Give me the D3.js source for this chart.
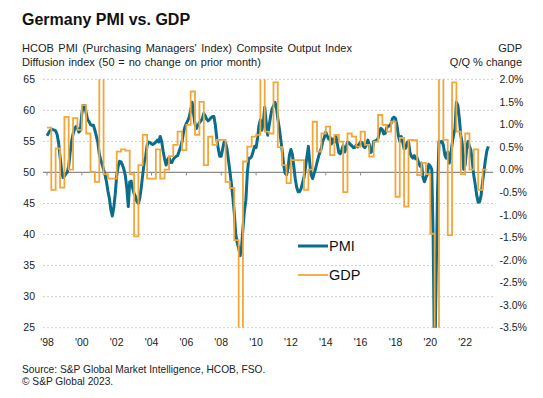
<!DOCTYPE html>
<html>
<head>
<meta charset="utf-8">
<script src="https://cdn.jsdelivr.net/npm/d3@7"></script>
<style>
  body { margin: 0; background: #fff; }
  text { font-family: "Liberation Sans", Arial, sans-serif; }
</style>
</head>
<body>
<div id="chart"></div>
<script>
'use strict';

// Monthly PMI values, Jan 1998 onwards
var pmiValues = [
    55.9, 56.3, 56.7, 56.9, 56.9, 56.8, 56.7, 56.1, 54.8, 52.6, 50.5, 49.2,
    49.4, 49.8, 50.0, 51.0, 53.2, 55.0, 56.2, 57.0, 57.4, 57.1, 56.5, 56.8,
    59.5, 60.8, 60.8, 59.6, 58.5, 58.2, 57.7, 57.6, 57.6, 56.8, 55.8, 54.9,
    53.0, 52.0, 51.3, 50.5, 49.6, 48.5, 47.0, 45.8, 44.0, 43.0, 44.3, 46.5,
    49.5, 51.0, 51.8, 51.7, 51.2, 50.5, 49.5, 47.5, 44.5, 48.5, 48.6, 47.5,
    46.6, 46.1, 45.3, 45.0, 45.9, 47.6, 49.7, 51.6, 52.6, 54.4, 54.9, 54.8,
    54.6, 54.5, 54.7, 54.9, 55.2, 54.9, 55.8, 55.0, 53.4, 52.2, 51.2, 52.0,
    52.4, 51.6, 51.6, 52.1, 52.4, 52.6, 52.7, 53.4, 54.1, 54.9, 56.4, 57.3,
    57.9, 58.4, 58.9, 60.0, 61.3, 59.4, 57.8, 57.1, 57.6, 58.0, 58.3, 58.7,
    59.5, 59.1, 58.6, 58.3, 58.5, 58.8, 59.0, 59.0, 57.6, 55.4, 53.8, 52.6,
    52.6, 53.8, 54.9, 54.8, 53.8, 52.0, 50.2, 48.2, 46.0, 43.5, 40.0, 38.7,
    37.8, 36.6, 37.8, 41.0, 43.8, 45.5, 49.8, 52.3, 52.3, 52.6, 53.4, 54.2,
    54.0, 55.5, 57.5, 58.5, 56.8, 58.0, 60.5, 58.0, 56.0, 57.5, 59.0, 60.2,
    60.7, 61.3, 60.6, 58.7, 57.2, 55.4, 53.6, 51.3, 49.9, 49.6, 50.6, 52.8,
    53.7, 52.9, 51.0, 49.0, 47.6, 46.9, 46.9, 47.4, 48.3, 49.2, 50.8, 52.5,
    54.2, 51.4, 49.6, 49.0, 49.8, 50.6, 51.6, 52.5, 53.3, 53.9, 55.1, 55.6,
    56.5, 55.9, 55.4, 55.7, 54.6, 55.4, 54.9, 55.8, 54.6, 53.2, 53.0, 53.6,
    54.3, 53.3, 53.9, 54.9, 54.8, 54.5, 54.3, 54.0, 54.0, 54.4, 54.1, 54.6,
    54.9, 54.8, 54.2, 54.0, 54.4, 55.2, 54.5, 53.2, 53.5, 55.0, 55.1, 55.1,
    55.5, 56.6, 57.1, 56.9, 56.2, 56.3, 57.2, 57.5, 57.5, 57.9, 58.7, 58.9,
    58.7, 57.6, 56.0, 55.0, 55.8, 54.9, 53.8, 53.9, 54.8, 55.0, 53.2, 52.6,
    52.3, 52.7, 52.2, 52.3, 51.6, 51.0, 51.5, 49.2, 48.5, 49.2, 49.7, 51.3,
    51.0, 50.5, 39.5, 17.4, 32.3, 47.0, 55.0, 54.9, 55.0, 54.4, 52.8, 52.3,
    53.3, 51.5, 52.6, 54.5, 56.0, 57.0, 61.3, 60.8, 58.7, 56.0, 54.6, 50.5,
    51.2, 53.8, 55.0, 54.2, 53.6, 51.7, 49.5, 48.0, 46.3, 45.2, 45.3, 46.3,
    48.5, 50.3, 52.0, 53.5, 54.2
];

// Quarterly GDP % change, 1998 Q1 onwards
var gdpValues = [
    0.93, -0.45, 0.47, -0.40,
    1.17, 0.00, 1.14, 0.88,
    1.43, 0.80, -0.05, -0.27,
    2.30, -0.10, -0.20, -0.20,
    0.40, 0.45, 0.42, -0.10,
    -1.48, 0.10, 0.77, -0.20,
    -0.20, 0.45, -0.20, 0.00,
    0.30, 0.55, 0.84, 0.43,
    0.99, 1.73, 0.77, 1.50,
    0.10, 0.73, 0.55, 0.66,
    0.66, -0.27, -0.41, -1.56,
    -4.50, 0.18, 0.51, 0.73,
    0.77, 2.10, 0.84, 0.80,
    1.93, 0.50, 0.10, -0.30,
    0.21, 0.21, 0.21, -0.45,
    0.00, 1.06, 0.40, 0.80,
    0.95, 0.32, 0.77, 0.62,
    -0.50, 0.80, 0.73, 0.51,
    0.84, 0.55, 0.29, 0.62,
    1.21, 0.99, 0.84, 1.06,
    -0.60, 0.70, -0.82, 0.66,
    0.65, -0.12, 0.15, -0.10,
    -1.42, -10.0, 9.0, 0.66,
    -1.45, 1.93, 0.84, -0.10,
    0.80, 0.00, 0.45, -0.45,
    0.00
];

var tickYears = [1998, 2000, 2002, 2004, 2006, 2008, 2010, 2012, 2014, 2016, 2018, 2020, 2022];
var leftTicks = [25, 30, 35, 40, 45, 50, 55, 60, 65];
var rightTicks = [-3.5, -3.0, -2.5, -2.0, -1.5, -1.0, -0.5, 0.0, 0.5, 1.0, 1.5, 2.0];

var pmiColor = "#0b6d8b";
var gdpColor = "#f3a63a";

(function() {
    var width = 543, height = 398;
    var plot = { left: 43, right: 493, top: 79.3, bottom: 327.7 };

    var svg = d3.select("#chart")
        .append("svg")
            .attr("width", width)
            .attr("height", height);

    // Scales
    var x = d3.scaleTime()
        .domain([new Date(1998, 0, 1), new Date(2023, 6, 1)])
        .range([47, 47 + 25.5 * 17.42]);

    var yLeft = d3.scaleLinear()
        .domain([25, 65])
        .range([plot.bottom, plot.top]);

    var yRight = d3.scaleLinear()
        .domain([-3.5, 2.0])
        .range([plot.bottom, plot.top]);

    // Title and subtitles
    svg.append("text")
        .attr("x", 22)
        .attr("y", 25)
        .attr("font-size", "16px")
        .attr("font-weight", "bold")
        .attr("fill", "#111")
        .text("Germany PMI vs. GDP");

    var sub = svg.append("g")
        .attr("font-size", "11px")
        .attr("fill", "#222");
    sub.append("text").attr("x", 22).attr("y", 52)
        .attr("word-spacing", "1.5px")
        .text("HCOB PMI (Purchasing Managers' Index) Compsite Output Index");
    sub.append("text").attr("x", 22).attr("y", 65.5)
        .attr("word-spacing", "0.8px")
        .text("Diffusion index (50 = no change on prior month)");
    sub.append("text").attr("x", 522).attr("y", 52)
        .attr("text-anchor", "end").text("GDP");
    sub.append("text").attr("x", 522).attr("y", 65.5)
        .attr("text-anchor", "end").text("Q/Q % change");

    // Gridlines
    svg.append("g")
        .selectAll("line")
        .data(leftTicks.filter(function(d) { return d !== 50; }))
        .enter()
        .append("line")
            .attr("x1", plot.left)
            .attr("x2", plot.right)
            .attr("y1", function(d) { return yLeft(d); })
            .attr("y2", function(d) { return yLeft(d); })
            .attr("stroke", "#cfcfcf")
            .attr("stroke-width", 1)
            .attr("stroke-dasharray", "2,2");

    // 50 line with year ticks
    svg.append("line")
        .attr("x1", plot.left)
        .attr("x2", plot.right)
        .attr("y1", yLeft(50))
        .attr("y2", yLeft(50))
        .attr("stroke", "#8a8a8a")
        .attr("stroke-width", 1.2);

    svg.append("g")
        .selectAll("line")
        .data(tickYears)
        .enter()
        .append("line")
            .attr("x1", function(d) { return x(new Date(d, 0, 1)); })
            .attr("x2", function(d) { return x(new Date(d, 0, 1)); })
            .attr("y1", yLeft(50))
            .attr("y2", yLeft(50) + 3)
            .attr("stroke", "#8a8a8a")
            .attr("stroke-width", 1);

    // Axis labels
    var axisText = svg.append("g")
        .attr("font-size", "10.5px")
        .attr("fill", "#222");

    axisText.selectAll(".left")
        .data(leftTicks)
        .enter()
        .append("text")
            .attr("x", 35)
            .attr("y", function(d) { return yLeft(d); })
            .attr("dy", "0.36em")
            .attr("text-anchor", "end")
            .text(function(d) { return d; });

    axisText.selectAll(".right")
        .data(rightTicks)
        .enter()
        .append("text")
            .attr("x", 499.5)
            .attr("y", function(d) { return yRight(d); })
            .attr("dy", "0.36em")
            .text(function(d) { return d3.format(".1f")(d).replace("−", "-") + "%"; });

    axisText.selectAll(".year")
        .data(tickYears)
        .enter()
        .append("text")
            .attr("x", function(d) { return x(new Date(d, 0, 1)); })
            .attr("y", 345.5)
            .attr("text-anchor", "middle")
            .text(function(d) { return "'" + String(d).slice(2); });

    // Clip for the series
    svg.append("clipPath")
        .attr("id", "plot-clip")
        .append("rect")
            .attr("x", plot.left - 2)
            .attr("y", plot.top)
            .attr("width", plot.right - plot.left + 4)
            .attr("height", plot.bottom - plot.top);

    var series = svg.append("g").attr("clip-path", "url(#plot-clip)");

    // PMI line
    var pmiData = pmiValues.map(function(v, i) {
        return { date: new Date(1998, i, 1), value: v };
    });

    var pmiLine = d3.line()
        .x(function(d) { return x(d.date); })
        .y(function(d) { return yLeft(d.value); });

    series.append("path")
        .datum(pmiData)
        .attr("d", pmiLine)
        .attr("fill", "none")
        .attr("stroke", pmiColor)
        .attr("stroke-width", 3)
        .attr("stroke-linejoin", "round");

    // GDP step line (each quarter held over its three months)
    var gdpData = gdpValues.map(function(v, i) {
        return { date: new Date(1998, i * 3, 1), value: v };
    });
    gdpData.push({ date: new Date(1998, gdpValues.length * 3, 1), value: gdpValues[gdpValues.length - 1] });

    var gdpLine = d3.line()
        .curve(d3.curveStepAfter)
        .x(function(d) { return x(d.date); })
        .y(function(d) { return yRight(d.value); });

    series.append("path")
        .datum(gdpData)
        .attr("d", gdpLine)
        .attr("fill", "none")
        .attr("stroke", gdpColor)
        .attr("stroke-width", 1.8);

    // Legend
    var legend = svg.append("g").attr("font-size", "14.5px").attr("fill", "#111");

    legend.append("line")
        .attr("x1", 298).attr("x2", 328)
        .attr("y1", 246).attr("y2", 246)
        .attr("stroke", pmiColor).attr("stroke-width", 3);
    legend.append("text")
        .attr("x", 329).attr("y", 246).attr("dy", "0.36em")
        .text("PMI");

    legend.append("line")
        .attr("x1", 298).attr("x2", 328)
        .attr("y1", 275).attr("y2", 275)
        .attr("stroke", gdpColor).attr("stroke-width", 1.8);
    legend.append("text")
        .attr("x", 329).attr("y", 275).attr("dy", "0.36em")
        .text("GDP");

    // Source
    var source = svg.append("g").attr("font-size", "10.2px").attr("fill", "#222");
    source.append("text").attr("x", 22).attr("y", 372.5)
        .text("Source: S&P Global Market Intelligence, HCOB, FSO.");
    source.append("text").attr("x", 22).attr("y", 385)
        .text("\u00A9 S&P Global 2023.");
})();
</script>
</body>
</html>
